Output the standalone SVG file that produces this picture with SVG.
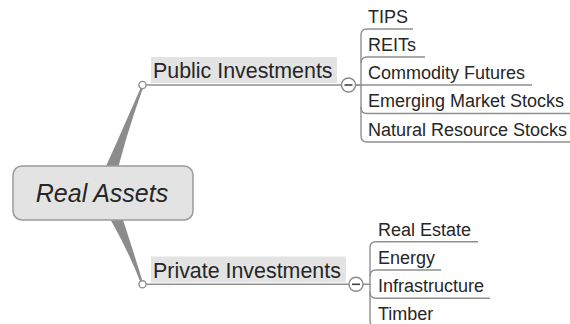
<svg xmlns="http://www.w3.org/2000/svg" width="570" height="324" viewBox="0 0 570 324">
  <style>
    .bg { fill: #ffffff; }
    .taper { fill: #8c8c8c; }
    .link { fill: none; stroke: #8f8f8f; stroke-width: 1.4; }
    .dot { fill: #ffffff; stroke: #8f8f8f; stroke-width: 1.4; }
    .toggle { fill: #ffffff; stroke: #8a8a8a; stroke-width: 1.4; }
    .minus { stroke: #444444; stroke-width: 1.6; }
    .hl { fill: #e3e3e3; }
    .root-box { fill: #e3e3e3; stroke: #9a9a9a; stroke-width: 1.5; }
    .t { font-family: "Liberation Sans", Arial, sans-serif; fill: #262626; }
    .root-t { font-size: 25px; font-style: italic; }
    .main-t { font-size: 21.4px; }
    .leaf-t { font-size: 18px; }
  </style>

  <rect class="bg" x="0" y="0" width="570" height="324"/>

  <!-- connectors -->
  <g id="connectors">
    <!-- tapered branches from the root -->
    <path class="taper" d="M94,193 Q118,140 141.5,86 L143.5,86.5 Q124,140 112,193 Z"/>
    <path class="taper" d="M94,193 Q122,235 141,283.5 L143,283 Q130,240 114,193 Z"/>

    <!-- main topic underlines -->
    <path class="link" d="M143,85 H341.5"/>
    <path class="link" d="M143,284.3 H349"/>

    <!-- Public Investments children -->
    <path class="link" d="M355.5,85 H361 V35 Q361,29 367,29 H413"/>
    <path class="link" d="M361,63 Q361,57 367,57 H425"/>
    <path class="link" d="M355.5,85 H532"/>
    <path class="link" d="M361,85 V107.5 Q361,113.5 367,113.5 H571"/>
    <path class="link" d="M361,107 V136 Q361,142 367,142 H571"/>

    <!-- Private Investments children -->
    <path class="link" d="M363,284.3 H370 V247.7 Q370,241.7 376,241.7 H478"/>
    <path class="link" d="M370,276 Q370,270 376,270 H441"/>
    <path class="link" d="M370,284 V292.3 Q370,298.3 376,298.3 H490"/>
    <path class="link" d="M370,292 V320.6 Q370,326.6 376,326.6 H430"/>

    <!-- junction dots -->
    <circle class="dot" cx="142.5" cy="85" r="3.6"/>
    <circle class="dot" cx="142.5" cy="284.3" r="3.6"/>
  </g>

  <!-- root -->
  <g id="real-assets">
    <rect class="root-box" x="13" y="166" width="180" height="54" rx="9" ry="9"/>
    <text class="t root-t" x="102" y="202" text-anchor="middle">Real Assets</text>
  </g>

  <!-- main topics -->
  <g id="public-investments">
    <rect class="hl" x="151" y="57" width="186" height="26"/>
    <text class="t main-t" x="153" y="78.3">Public Investments</text>
    <circle class="toggle" cx="348.5" cy="85" r="7"/>
    <line class="minus" x1="344.5" y1="85" x2="352.5" y2="85"/>
  </g>

  <g id="private-investments">
    <rect class="hl" x="151" y="256.5" width="195" height="26"/>
    <text class="t main-t" x="153" y="277.7">Private Investments</text>
    <circle class="toggle" cx="356" cy="284.3" r="7"/>
    <line class="minus" x1="352" y1="284.3" x2="360" y2="284.3"/>
  </g>

  <!-- Public Investments leaves -->
  <g id="tips"><text class="t leaf-t" x="368" y="22.5">TIPS</text></g>
  <g id="reits"><text class="t leaf-t" x="368" y="50.5">REITs</text></g>
  <g id="commodity-futures"><text class="t leaf-t" x="368" y="78.8">Commodity Futures</text></g>
  <g id="emerging-market-stocks"><text class="t leaf-t" x="368" y="107">Emerging Market Stocks</text></g>
  <g id="natural-resource-stocks"><text class="t leaf-t" x="368" y="135.5">Natural Resource Stocks</text></g>

  <!-- Private Investments leaves -->
  <g id="real-estate"><text class="t leaf-t" x="378" y="235.5">Real Estate</text></g>
  <g id="energy"><text class="t leaf-t" x="378" y="263.5">Energy</text></g>
  <g id="infrastructure"><text class="t leaf-t" x="378" y="292">Infrastructure</text></g>
  <g id="timber"><text class="t leaf-t" x="378" y="320.3">Timber</text></g>
</svg>
